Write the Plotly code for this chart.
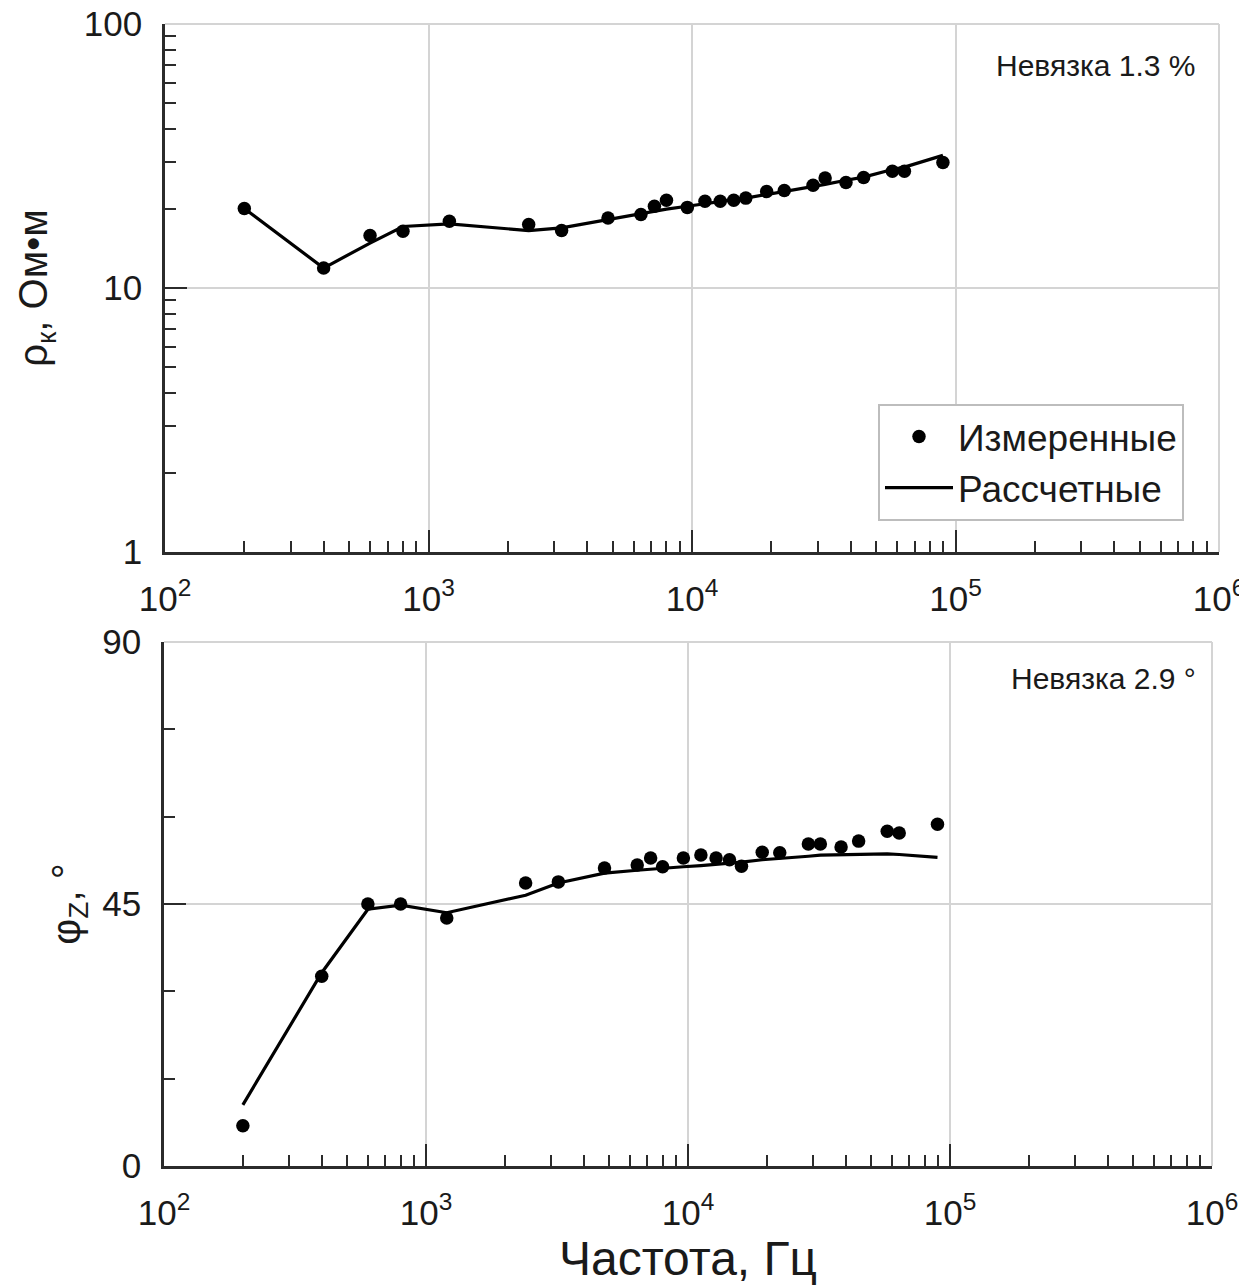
import plotly.graph_objects as go

# ---------------- data ----------------
freq = [200, 400, 600, 800, 1200, 2400, 3200, 4800, 6400, 7200, 8000, 9600,
        11200, 12800, 14400, 16000, 19200, 22400, 28800, 32000, 38400, 44800,
        57600, 64000, 89600]

rho_meas = [20.0, 11.9, 15.8, 16.4, 17.9, 17.4, 16.5, 18.4, 19.0, 20.4, 21.5, 20.2,
            21.3, 21.3, 21.5, 21.9, 23.2, 23.4, 24.5, 26.1, 25.1, 26.2,
            27.7, 27.7, 29.9]
rho_calc = [20.0, 11.9, 14.8, 17.1, 17.5, 16.5, 16.9, 18.2, 19.1, 19.5, 19.9, 20.4,
            20.9, 21.3, 21.6, 21.9, 22.6, 23.1, 24.1, 24.7, 25.6, 26.3,
            28.1, 28.7, 31.8]

phase_meas = [6.9, 32.6, 45.0, 45.0, 42.6, 48.6, 48.8, 51.2, 51.7, 52.9, 51.4, 52.9,
              53.4, 52.9, 52.6, 51.5, 53.9, 53.8, 55.3, 55.3, 54.8, 55.8,
              57.5, 57.2, 58.7]
phase_calc = [10.5, 33.2, 44.1, 44.8, 43.5, 46.5, 48.6, 50.3, 50.8, 51.0, 51.2, 51.4,
              51.6, 51.8, 52.0, 52.2, 52.6, 52.8, 53.2, 53.4, 53.5, 53.6,
              53.6, 53.5, 53.0]

x_major = [1e2, 1e3, 1e4, 1e5, 1e6]
x_major_text = ["10<sup>2</sup>", "10<sup>3</sup>", "10<sup>4</sup>",
                "10<sup>5</sup>", "10<sup>6</sup>"]
x_minor = [m * d for d in [1e2, 1e3, 1e4, 1e5] for m in range(2, 10)]

rho_major = [1, 10, 100]
rho_major_text = ["1", "10", "100"]
rho_minor = [m * d for d in [1, 10] for m in range(2, 10)]

phase_major = [0, 45, 90]
phase_major_text = ["0", "45", "90"]
phase_minor = [15, 30, 60, 75]

labels = ["Измеренные", "Рассчетные"]
misfit_texts = ["Невязка 1.3 %", "Невязка 2.9 °"]

# ---------------- figure ----------------
W, H = 1247, 1288
OX, OY = 8, 8          # page body margin compensation


def px(x):
    return (x - OX) / W


def py(y):
    return 1 - (y - OY) / H


FONT = "Liberation Sans, Arial, sans-serif"
AX = "#2b2b2b"
GRID = "#d4d4d4"
TXT = "#1a1a1a"

fig = go.Figure()

fig.add_trace(go.Scatter(x=freq, y=rho_meas, mode="markers", name=labels[0],
                         marker=dict(color="black", size=13.5),
                         xaxis="x", yaxis="y"))
fig.add_trace(go.Scatter(x=freq, y=rho_calc, mode="lines", name=labels[1],
                         line=dict(color="black", width=3.2),
                         xaxis="x", yaxis="y"))
fig.add_trace(go.Scatter(x=freq, y=phase_meas, mode="markers", showlegend=False,
                         marker=dict(color="black", size=13.5),
                         xaxis="x2", yaxis="y2"))
fig.add_trace(go.Scatter(x=freq, y=phase_calc, mode="lines", showlegend=False,
                         line=dict(color="black", width=3.2),
                         xaxis="x2", yaxis="y2"))

common_x = dict(
    type="log", range=[2, 6],
    tickmode="array", tickvals=x_major, ticktext=x_major_text,
    ticks="inside", ticklen=22, tickwidth=2, tickcolor=AX,
    showline=True, linecolor=AX, linewidth=2.5,
    showgrid=True, gridcolor=GRID, gridwidth=2,
    zeroline=False, automargin=False, ticklabeloverflow="allow",
    tickfont=dict(family=FONT, size=35, color=TXT),
    ticklabelstandoff=14,
    minor=dict(tickmode="array", tickvals=x_minor, ticks="inside",
               ticklen=11, tickwidth=2, tickcolor=AX, showgrid=False),
)

fig.update_layout(
    width=W, height=H,
    margin=dict(l=0, r=0, t=0, b=0),
    paper_bgcolor="white", plot_bgcolor="white",
    font=dict(family=FONT, color=TXT),
    xaxis=dict(common_x, domain=[px(165), px(1219)], anchor="y"),
    yaxis=dict(
        type="log", range=[0, 2], domain=[py(552), py(24)], anchor="x",
        tickmode="array", tickvals=rho_major, ticktext=rho_major_text,
        ticks="inside", ticklen=22, tickwidth=2, tickcolor=AX,
        showline=True, linecolor=AX, linewidth=2.5,
        showgrid=True, gridcolor=GRID, gridwidth=2,
        zeroline=False, automargin=False, ticklabeloverflow="allow",
        tickfont=dict(family=FONT, size=35, color=TXT),
        ticklabelstandoff=13,
        minor=dict(tickmode="array", tickvals=rho_minor, ticks="inside",
                   ticklen=11, tickwidth=2, tickcolor=AX, showgrid=False),
        title=dict(text="ρ<sub>к</sub>, Ом•м", font=dict(family=FONT, size=40),
                   standoff=24),
    ),
    xaxis2=dict(common_x, domain=[px(164), px(1212)], anchor="y2",
                title=dict(text="Частота, Гц", font=dict(family=FONT, size=48),
                           standoff=2)),
    yaxis2=dict(
        range=[0, 90], domain=[py(1166), py(642)], anchor="x2",
        tickmode="array", tickvals=phase_major, ticktext=phase_major_text,
        ticks="inside", ticklen=22, tickwidth=2, tickcolor=AX,
        showline=True, linecolor=AX, linewidth=2.5,
        showgrid=True, gridcolor=GRID, gridwidth=2,
        zeroline=False, automargin=False, ticklabeloverflow="allow",
        tickfont=dict(family=FONT, size=35, color=TXT),
        ticklabelstandoff=13,
        minor=dict(tickmode="array", tickvals=phase_minor, ticks="inside",
                   ticklen=11, tickwidth=2, tickcolor=AX, showgrid=False),
        title=dict(text="φ<sub>Z</sub>, °", font=dict(family=FONT, size=40),
                   standoff=10),
    ),
    legend=dict(
        x=px(878), y=py(404), xanchor="left", yanchor="top",
        bordercolor="#bdbdbd", borderwidth=2, bgcolor="white",
        font=dict(family=FONT, size=37, color=TXT),
        itemwidth=68, tracegroupgap=0,
    ),
    annotations=[
        dict(text=misfit_texts[0], xref="paper", yref="paper",
             x=px(1197), y=py(66), xanchor="right", yanchor="middle",
             showarrow=False, font=dict(family=FONT, size=30, color=TXT)),
        dict(text=misfit_texts[1], xref="paper", yref="paper",
             x=px(1198), y=py(678), xanchor="right", yanchor="middle",
             showarrow=False, font=dict(family=FONT, size=30, color=TXT)),
    ],
    shapes=[
        # light frame lines on the top and right sides of both panels
        dict(type="line", xref="x domain", yref="y domain", x0=0, x1=1, y0=1, y1=1,
             line=dict(color=GRID, width=2), layer="below"),
        dict(type="line", xref="x domain", yref="y domain", x0=1, x1=1, y0=0, y1=1,
             line=dict(color=GRID, width=2), layer="below"),
        dict(type="line", xref="x2 domain", yref="y2 domain", x0=0, x1=1, y0=1, y1=1,
             line=dict(color=GRID, width=2), layer="below"),
        dict(type="line", xref="x2 domain", yref="y2 domain", x0=1, x1=1, y0=0, y1=1,
             line=dict(color=GRID, width=2), layer="below"),
    ],
)

fig.write_html("out.html")
